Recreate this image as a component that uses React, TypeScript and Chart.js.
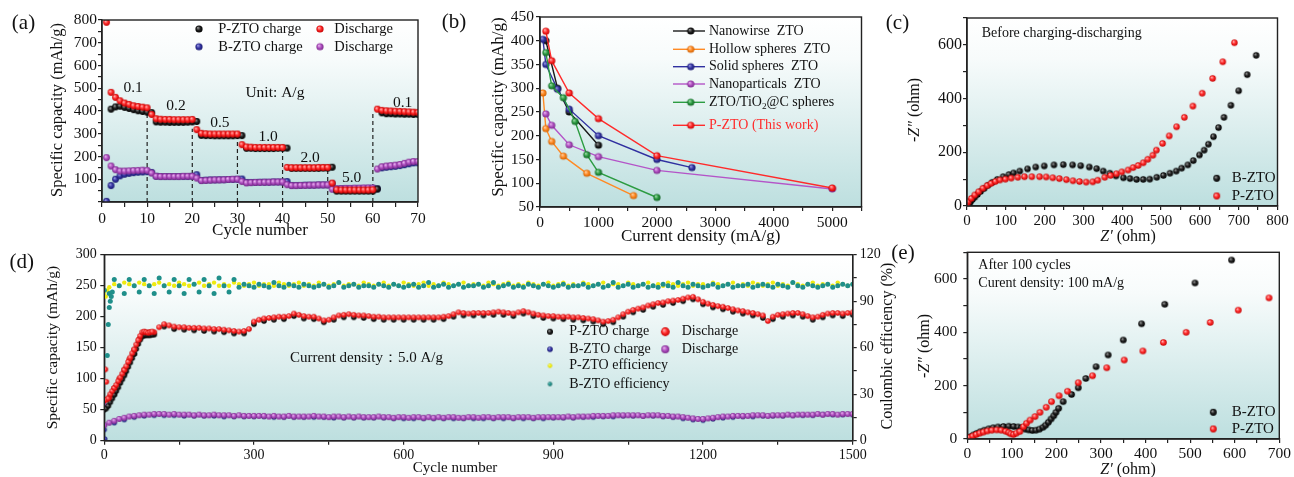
import React, { useEffect, useRef } from 'react';
import { Chart, registerables } from 'chart.js';

Chart.register(...registerables);

const FONT = '"Liberation Serif", "Times New Roman", Times, serif';
const PAGE_W = 1294;
const PAGE_H = 477;

/* ---------------- (a) rate capability, cycles 1..70 ---------------- */
const A_P_CHARGE = [
  null, 408, 418, 421, 416, 411, 406, 401, 398, 395,
  393, 352, 351, 351, 350, 350, 350, 350, 351, 352,
  354, 293, 292, 292, 291, 291, 291, 291, 291, 292,
  292, 236, 236, 235, 235, 235, 235, 235, 236, 236,
  237, 148, 148, 148, 148, 148, 148, 148, 149, 149,
  153, 48, 48, 48, 48, 48, 48, 48, 48, 48,
  57, 392, 388, 388, 387, 387, 386, 386, 385, 385,
];
const A_P_DISCHARGE = [
  790, 482, 460, 445, 435, 429, 423, 420, 417, 414,
  385, 366, 364, 363, 363, 362, 362, 362, 362, 363,
  318, 302, 300, 299, 299, 299, 299, 299, 299, 299,
  252, 242, 241, 240, 240, 240, 240, 240, 240, 240,
  152, 151, 151, 151, 151, 151, 151, 152, 152, 152,
  83, 54, 53, 53, 53, 53, 53, 53, 53, 54,
  408, 403, 401, 400, 399, 398, 397, 396, 395, 394,
];
const A_B_CHARGE = [
  3, 72, 100, 115, 122, 126, 129, 131, 132, 133,
  130, 113, 112, 112, 112, 112, 112, 112, 112, 113,
  120, 95, 96, 97, 97, 98, 98, 99, 99, 100,
  101, 86, 86, 86, 87, 87, 87, 88, 88, 88,
  90, 73, 73, 73, 74, 74, 74, 75, 75, 75,
  80, 57, 58, 58, 58, 59, 59, 59, 60, 60,
  58, 150, 153, 155, 157, 160, 164, 168, 172, 172,
];
const A_B_DISCHARGE = [
  195, 158, 142, 136, 136, 137, 138, 139, 140, 139,
  127, 113, 112, 112, 112, 112, 112, 113, 113, 113,
  105, 94, 95, 96, 97, 97, 98, 99, 100, 100,
  90, 84, 85, 86, 86, 87, 87, 88, 88, 88,
  76, 72, 72, 73, 73, 74, 74, 75, 75, 75,
  56, 58, 59, 60, 60, 61, 61, 62, 62, 62,
  145, 155, 158, 160, 162, 165, 170, 175, 178, 178,
];
const A_RATE_EDGES = [10, 20, 30, 40, 50, 60];
const A_RATE_EDGE_TOPS = [395, 322, 283, 228, 158, 390];
const A_RATE_LABELS = ['0.1', '0.2', '0.5', '1.0', '2.0', '5.0', '0.1'];

/* ---------------- (b) comparison ---------------- */
const B_NANOWIRE_X = [100, 300, 500, 1000];
const B_NANOWIRE_Y = [400, 300, 250, 180];
const B_HOLLOW_X = [50, 100, 200, 400, 800, 1600];
const B_HOLLOW_Y = [290, 215, 188, 157, 121, 74];
const B_SOLID_X = [50, 100, 300, 500, 1000, 2000, 2600];
const B_SOLID_Y = [403, 350, 298, 256, 200, 150, 133];
const B_NANOPART_X = [100, 200, 500, 1000, 2000, 5000];
const B_NANOPART_Y = [246, 222, 181, 156, 127, 88];
const B_TIO2C_X = [100, 200, 400, 600, 800, 1000, 2000];
const B_TIO2C_Y = [375, 305, 280, 230, 160, 123, 70];
const B_PZTO_X = [100, 200, 500, 1000, 2000, 5000];
const B_PZTO_Y = [420, 358, 290, 236, 158, 90];

/* ---------------- (c) EIS before cycling ---------------- */
const C_B_X = [2, 5, 9, 14, 20, 27, 35, 44, 54, 65, 78, 93, 108, 120, 136, 156, 177, 199, 224, 248, 272, 293, 315, 334, 351, 368, 384, 403, 420, 437, 454, 471, 489, 506, 523, 539, 553, 569, 583, 599, 611, 622, 635, 648, 662, 680, 700, 722, 745];
const C_B_Y = [2, 8, 15, 24, 33, 43, 54, 65, 77, 88, 99, 109, 117, 123, 130, 138, 145, 149, 153, 154, 153, 150, 145, 139, 130, 122, 112, 105, 102, 99, 99, 100, 107, 114, 122, 130, 141, 153, 169, 190, 208, 230, 258, 292, 330, 375, 429, 489, 561];
const C_P_X = [0, 3, 11, 20, 30, 41, 52, 62, 73, 85, 99, 114, 131, 148, 167, 187, 204, 221, 238, 256, 273, 290, 307, 324, 337, 355, 370, 385, 399, 415, 428, 441, 454, 466, 479, 488, 504, 521, 540, 560, 582, 606, 633, 659, 689];
const C_P_Y = [4, 16, 28, 41, 53, 66, 76, 84, 91, 97, 100, 104, 107, 109, 109, 109, 108, 105, 102, 98, 94, 91, 89, 90, 96, 107, 114, 120, 127, 134, 143, 151, 161, 174, 189, 208, 233, 261, 295, 330, 372, 420, 475, 537, 608];

/* ---------------- (d) long cycling at 5 A/g ---------------- */
const D_STEP = 10;
const D_STEP_CHARGE = 20;
const D_RISE_STEP = 4;
const D_P_DISCHARGE = [
  65, 70, 85, 100, 115, 131, 147, 164, 175, 175,
  175, 183, 188, 186, 184, 183, 183, 182, 182, 182,
  181, 181, 180, 180, 179, 178, 177, 176, 177, 180,
  192, 195, 197, 198, 199, 200, 200, 201, 205, 203,
  201, 200, 200, 197, 194, 195, 199, 202, 203, 204,
  203, 202, 202, 201, 200, 200, 199, 199, 199, 199,
  199, 199, 199, 199, 199, 199, 199, 199, 200, 201,
  204, 207, 206, 205, 206, 206, 206, 206, 207, 208,
  207, 206, 205, 207, 209, 207, 205, 203, 202, 201,
  201, 200, 200, 200, 199, 199, 198, 197, 196, 194,
  192, 193, 195, 199, 204, 208, 211, 213, 215, 218,
  220, 222, 223, 225, 226, 227, 229, 231, 232, 228,
  224, 221, 219, 217, 216, 214, 212, 210, 209, 207,
  206, 204, 202, 193, 200, 203, 204, 205, 206, 206,
  204, 201, 199, 200, 203, 205, 206, 206, 205, 206,
  207,
];
/* first 100 cycles, read every 4 cycles */
const D_P_DISCHARGE_RISE = [66, 66, 68, 75, 80, 85, 90, 96, 102, 108, 114, 120, 127, 134, 141, 147, 155, 162, 169, 175, 176, 175, 174, 175, 176];
const D_P_DISCHARGE_EARLY_X = [2, 4];
const D_P_DISCHARGE_EARLY_Y = [115, 95];
const D_P_CHARGE = [
  52, 75, 108, 140, 170, 171, 184, 180, 179, 178,
  177, 176, 175, 173, 173, 188, 193, 195, 196, 201,
  197, 196, 191, 195, 199, 199, 198, 196, 195, 195,
  195, 195, 195, 195, 196, 200, 202, 202, 202, 203,
  203, 201, 205, 201, 198, 197, 196, 195, 194, 192,
  188, 191, 200, 207, 211, 216, 219, 222, 225, 228,
  220, 215, 212, 208, 205, 202, 198, 196, 200, 202,
  200, 195, 199, 202, 201, 203,
];
const D_P_CHARGE_RISE = [50, 52, 56, 62, 68, 74, 80, 86, 93, 99, 105, 112, 119, 126, 133, 140, 148, 156, 163, 168, 170, 170, 170, 170, 171];
const D_B_DISCHARGE = [
  25, 29, 32, 35, 37, 39, 40, 41, 42, 42,
  43, 43, 43, 42, 43, 42, 42, 42, 41, 42,
  41, 41, 42, 41, 41, 41, 40, 41, 40, 40,
  40, 40, 40, 39, 40, 39, 39, 40, 39, 39,
  39, 39, 40, 39, 39, 38, 39, 39, 38, 39,
  38, 39, 38, 38, 38, 39, 38, 38, 37, 38,
  38, 37, 38, 38, 37, 38, 37, 38, 37, 38,
  38, 37, 37, 38, 38, 37, 38, 38, 37, 38,
  38, 38, 37, 38, 38, 38, 37, 38, 38, 38,
  38, 38, 38, 39, 38, 39, 39, 39, 40, 40,
  40, 40, 41, 41, 41, 41, 41, 41, 40, 41,
  41, 41, 40, 40, 39, 39, 38, 37, 36, 35,
  35, 36, 37, 38, 39, 39, 40, 40, 40, 40,
  41, 41, 41, 40, 41, 41, 41, 42, 41, 42,
  42, 42, 42, 43, 42, 43, 43, 42, 43, 43,
  43,
];
const D_B_DISCHARGE_EARLY_X = [1];
const D_B_DISCHARGE_EARLY_Y = [56];
const D_B_CHARGE = [
  18, 29, 34, 38, 40, 41, 41, 41, 40, 40,
  40, 40, 39, 39, 39, 39, 39, 38, 38, 38,
  38, 38, 38, 37, 37, 37, 37, 37, 37, 36,
  36, 36, 36, 36, 36, 36, 36, 36, 36, 36,
  36, 36, 36, 36, 36, 37, 37, 37, 38, 38,
  39, 39, 40, 40, 40, 40, 39, 38, 36, 34,
  33, 35, 37, 38, 39, 39, 40, 40, 40, 41,
  41, 41, 42, 42, 42, 42,
];
const D_B_CHARGE_EARLY_X = [1];
const D_B_CHARGE_EARLY_Y = [3];
const D_P_EFF = [
  96, 99, 101, 100, 102, 101, 100, 102, 101, 100,
  101, 102, 100, 101, 100, 102, 101, 100, 101, 102,
  100, 101, 102, 100, 101, 100, 102, 101, 100, 101,
  102, 100, 101, 101, 100, 102, 101, 100, 101, 102,
  100, 101, 100, 102, 101, 100, 101, 102, 100, 101,
  101, 100, 102, 101, 100, 101, 102, 100, 101, 100,
  102, 101, 100, 101, 102, 100, 101, 100, 102, 101,
  100, 101, 102, 100, 101, 101, 100, 102, 101, 100,
  101, 102, 100, 101, 100, 102, 101, 100, 101, 102,
  100, 101, 102, 100, 101, 100, 102, 101, 100, 101,
  102, 100, 101, 101, 100, 102, 101, 100, 101, 102,
  100, 101, 100, 102, 101, 100, 101, 102, 100, 101,
  101, 100, 102, 101, 100, 101, 102, 100, 101, 100,
  102, 101, 100, 101, 102, 100, 101, 100, 102, 101,
  100, 101, 102, 100, 101, 101, 100, 102, 101, 100,
  101,
];
const D_P_EFF_EARLY_X = [3, 6];
const D_P_EFF_EARLY_Y = [93, 97];
const D_B_EFF = [
  97, 95, 104, 100, 95, 104, 100, 96, 104, 100,
  95, 105, 100, 96, 104, 100, 95, 104, 101, 96,
  104, 100, 95, 105, 100, 96, 104, 99, 101, 100,
  99, 101, 100, 99, 102, 100, 99, 101, 100, 99,
  101, 100, 99, 100, 101, 99, 100, 102, 99, 100,
  101, 99, 100, 100, 99, 101, 100, 99, 101, 100,
  99, 100, 101, 99, 100, 102, 99, 100, 101, 99,
  100, 101, 99, 100, 100, 101, 99, 100, 102, 99,
  100, 101, 99, 100, 99, 101, 100, 99, 101, 100,
  99, 100, 101, 99, 100, 100, 101, 99, 100, 101,
  99, 100, 102, 99, 100, 101, 99, 100, 101, 99,
  100, 99, 101, 100, 99, 102, 100, 99, 101, 100,
  99, 100, 101, 99, 100, 101, 99, 100, 100, 101,
  99, 100, 101, 100, 99, 101, 100, 99, 102, 100,
  99, 101, 100, 99, 100, 101, 99, 100, 101, 100,
  101,
];
const D_B_EFF_EARLY_X = [6, 8, 10, 12, 14, 16];
const D_B_EFF_EARLY_Y = [55, 75, 86, 90, 93, 96];

/* ---------------- (e) EIS after 100 cycles ---------------- */
const E_B_X = [3, 8, 14, 21, 29, 38, 48, 58, 69, 81, 93, 104, 114, 122, 130, 138, 146, 154, 162, 170, 176, 182, 188, 194, 199, 205, 215, 234, 249, 266, 289, 316, 350, 391, 443, 511, 593];
const E_B_Y = [3, 9, 15, 21, 27, 33, 38, 42, 45, 47, 48, 47, 45, 42, 37, 34, 32, 33, 37, 44, 52, 63, 75, 87, 100, 115, 140, 167, 192, 227, 271, 315, 371, 432, 505, 585, 671];
const E_P_X = [2, 6, 12, 20, 28, 36, 45, 55, 66, 76, 86, 93, 98, 104, 110, 118, 126, 133, 141, 152, 163, 177, 189, 206, 225, 249, 281, 313, 352, 394, 440, 491, 545, 608, 677];
const E_P_Y = [2, 6, 11, 17, 22, 26, 30, 33, 34, 33, 29, 24, 19, 17, 22, 28, 46, 59, 71, 84, 100, 119, 140, 162, 179, 211, 237, 267, 296, 330, 362, 400, 437, 483, 529];

/* ---------------- helpers ---------------- */
type Seg = { t: string; it?: boolean; sub?: boolean; color?: string };
type TextItem = { s: string | Seg[]; x: number; y: number; size: number; align?: 'left' | 'center' | 'right'; rot?: number; color?: string; data?: boolean; axis?: string };
type LegendItem = { mx: number; my: number; img?: HTMLCanvasElement; line?: [number, number, string]; tx: number; s: string | Seg[]; size: number; color?: string };

function ball(base: string, light: string, dark: string, r: number): HTMLCanvasElement {
  const s = Math.ceil(r * 2) + 2;
  const c = document.createElement('canvas');
  c.width = s;
  c.height = s;
  const g = c.getContext('2d')!;
  const cx = s / 2;
  const cy = s / 2;
  const grad = g.createRadialGradient(cx - r * 0.35, cy - r * 0.4, 0, cx, cy, r);
  grad.addColorStop(0, light);
  grad.addColorStop(0.55, base);
  grad.addColorStop(1, dark);
  g.fillStyle = grad;
  g.beginPath();
  g.arc(cx, cy, r, 0, Math.PI * 2);
  g.fill();
  return c;
}
const PAL: Record<string, [string, string, string]> = {
  black: ['#202020', '#a8a8a8', '#000000'],
  red: ['#ff2b2b', '#ffc6c6', '#c40000'],
  blue: ['#3636a4', '#a8a8ea', '#1a1a70'],
  purple: ['#b050c2', '#f0c4f4', '#7a2a8a'],
  orange: ['#ff8a24', '#ffdcb8', '#cc5e00'],
  green: ['#2c9c42', '#b4e6bc', '#126224'],
  yellow: ['#f2ee10', '#fbf9a0', '#d8d400'],
  teal: ['#1f8f8a', '#6fcac4', '#146660'],
};
const mk = (k: string, r: number) => ball(PAL[k][0], PAL[k][1], PAL[k][2], r);

function drawRich(ctx: CanvasRenderingContext2D, s: string | Seg[], x: number, y: number, size: number, align: string, rot: number, color?: string) {
  const segs: Seg[] = typeof s === 'string' ? [{ t: s }] : s;
  const fontOf = (g: Seg) => `${g.it ? 'italic ' : ''}${g.sub ? size * 0.66 : size}px ${FONT}`;
  let total = 0;
  const ws = segs.map((g) => {
    ctx.font = fontOf(g);
    const w = ctx.measureText(g.t).width;
    total += w;
    return w;
  });
  ctx.save();
  ctx.translate(x, y);
  if (rot) ctx.rotate(rot);
  let cx = align === 'center' ? -total / 2 : align === 'right' ? -total : 0;
  ctx.textBaseline = 'middle';
  ctx.textAlign = 'left';
  segs.forEach((g, i) => {
    ctx.font = fontOf(g);
    ctx.fillStyle = g.color || color || '#111';
    ctx.fillText(g.t, cx, g.sub ? size * 0.3 : 0);
    cx += ws[i];
  });
  ctx.restore();
}

let pluginCount = 0;
function decor(cfg: { texts: TextItem[]; legend: LegendItem[] }) {
  pluginCount += 1;
  return {
    id: 'decor' + pluginCount,
    beforeDraw(chart: any) {
      const { ctx, chartArea: a } = chart;
      const g = ctx.createLinearGradient(0, a.top, 0, a.bottom);
      g.addColorStop(0, '#ffffff');
      g.addColorStop(0.22, '#f7fbfb');
      g.addColorStop(1, '#bddfdf');
      ctx.save();
      ctx.fillStyle = g;
      ctx.fillRect(a.left, a.top, a.right - a.left, a.bottom - a.top);
      ctx.restore();
    },
    afterDraw(chart: any) {
      const { ctx, chartArea: a } = chart;
      ctx.save();
      ctx.strokeStyle = '#222';
      ctx.lineWidth = 1.4;
      ctx.strokeRect(a.left, a.top, a.right - a.left, a.bottom - a.top);
      ctx.restore();
      for (const t of cfg.texts) {
        let x = t.x;
        let y = t.y;
        if (t.data) {
          x = chart.scales.x.getPixelForValue(t.x);
          y = chart.scales[t.axis || 'y'].getPixelForValue(t.y);
        }
        drawRich(ctx, t.s, x, y, t.size, t.align || 'center', t.rot || 0, t.color);
      }
      for (const it of cfg.legend) {
        if (it.line) {
          ctx.save();
          ctx.strokeStyle = it.line[2];
          ctx.lineWidth = 1.4;
          ctx.beginPath();
          ctx.moveTo(it.line[0], it.my);
          ctx.lineTo(it.line[1], it.my);
          ctx.stroke();
          ctx.restore();
        }
        if (it.img) ctx.drawImage(it.img, it.mx - it.img.width / 2, it.my - it.img.height / 2);
        drawRich(ctx, it.s, it.tx, it.my, it.size, 'left', 0, it.color);
      }
    },
  };
}

function linAxis(o: { pos: string; min: number; max: number; step: number; every: number; box: number; font: number; pad: number; tl?: number; hideMin?: boolean }) {
  return {
    type: 'linear',
    position: o.pos,
    min: o.min,
    max: o.max,
    afterFit: (s: any) => {
      if (o.pos === 'bottom') s.height = o.box;
      else s.width = o.box;
    },
    grid: { display: true, drawOnChartArea: false, drawTicks: true, tickLength: o.tl ?? 4, color: '#222', lineWidth: 1.2 },
    border: { display: true, color: '#222', width: 1.4 },
    ticks: {
      stepSize: o.step,
      autoSkip: false,
      maxRotation: 0,
      minRotation: 0,
      padding: o.pad,
      color: '#111',
      font: { family: FONT, size: o.font },
      callback: (v: any) => {
        const n = Number(v);
        if (o.hideMin && n === o.min) return '';
        const q = n / o.every;
        return Math.abs(q - Math.round(q)) < 1e-6 ? String(n) : '';
      },
    },
  };
}

const pts = (xs: number[], ys: (number | null)[]) => xs.map((x, i) => ({ x, y: ys[i] }));
const seq = (ys: (number | null)[], start: number, step: number) => ys.map((y, i) => ({ x: start + i * step, y }));
function balls(data: any[], img: HTMLCanvasElement, r: number, order: number, extra: any = {}) {
  return { data, pointStyle: img, pointRadius: r, pointHoverRadius: r, pointBorderWidth: 0, showLine: false, order, ...extra };
}
function dots(data: any[], color: string, r: number, order: number, yAxisID = 'y') {
  return { data, pointStyle: 'circle', pointRadius: r, pointBackgroundColor: color, pointBorderWidth: 0, showLine: false, order, yAxisID };
}

function makeChart(canvas: HTMLCanvasElement, datasets: any[], scales: any, pad: any, deco: any) {
  return new Chart(canvas, {
    type: 'scatter',
    data: { datasets },
    options: {
      responsive: false,
      maintainAspectRatio: false,
      animation: false,
      devicePixelRatio: 1,
      events: [],
      layout: { padding: pad },
      plugins: { legend: { display: false }, tooltip: { enabled: false } },
      scales,
    } as any,
    plugins: [decor(deco)],
  } as any);
}

const ROT = -Math.PI / 2;

/* ---------------- panels ---------------- */
function buildA(cv: HTMLCanvasElement) {
  const r = 3.4;
  const cycles = A_P_DISCHARGE.map((_, i) => i + 1);
  const datasets: any[] = [
    balls(pts(cycles, A_P_DISCHARGE), mk('red', r), r, 0),
    balls(pts(cycles, A_P_CHARGE), mk('black', r), r, 1),
    balls(pts(cycles, A_B_DISCHARGE), mk('purple', r), r, 2),
    balls(pts(cycles, A_B_CHARGE), mk('blue', r), r, 3),
    ...A_RATE_EDGES.map((x, i) => ({
      data: [{ x, y: 0 }, { x, y: A_RATE_EDGE_TOPS[i] }],
      showLine: true, borderColor: '#222', borderWidth: 1.2, borderDash: [4, 3], pointRadius: 0, order: 9,
    })),
  ];
  const labelAt = [[6.9, 501], [16.4, 422], [26.1, 347], [36.8, 286], [46.1, 193], [55.3, 106], [66.6, 434]];
  const lr = 3.6;
  return makeChart(cv, datasets, {
    x: linAxis({ pos: 'bottom', min: 0, max: 70, step: 5, every: 10, box: 30, font: 15.5, pad: 3, tl: 5 }),
    y: linAxis({ pos: 'left', min: 0, max: 800, step: 50, every: 100, box: 50, font: 15.5, pad: 1, hideMin: true }),
  }, { left: 52, top: 20, right: PAGE_W - 418, bottom: PAGE_H - 202 - 30 }, {
    texts: [
      { s: '(a)', x: 23.5, y: 23, size: 21 },
      { s: 'Specific capacity (mAh/g)', x: 58, y: 110, size: 16.5, rot: ROT },
      { s: 'Cycle number', x: 260, y: 231, size: 17 },
      ...A_RATE_LABELS.map((t, i) => ({ s: t, x: labelAt[i][0], y: labelAt[i][1], size: 15.5, data: true })),
      { s: 'Unit: A/g', x: 38.3, y: 479, size: 15.5, data: true },
    ],
    legend: [
      { mx: 199, my: 29, img: mk('black', lr), tx: 218.3, s: 'P-ZTO charge', size: 14.5 },
      { mx: 320, my: 29, img: mk('red', lr), tx: 334.3, s: 'Discharge', size: 14.5 },
      { mx: 199, my: 46.7, img: mk('blue', lr), tx: 218.3, s: 'B-ZTO charge', size: 14.5 },
      { mx: 320, my: 46.7, img: mk('purple', lr), tx: 334.3, s: 'Discharge', size: 14.5 },
    ],
  });
}

function buildB(cv: HTMLCanvasElement) {
  const r = 3.6;
  const line = (xs: number[], ys: number[], col: string, key: string, order: number) => ({
    data: pts(xs, ys), showLine: true, borderColor: col, borderWidth: 1.4,
    pointStyle: mk(key, r), pointRadius: r, pointHoverRadius: r, pointBorderWidth: 0, order,
  });
  const C = { black: '#1a1a1a', orange: '#ff8a24', navy: '#3030a0', purple: '#b455c8', green: '#2c9c42', red: '#ff2b2b' };
  const datasets = [
    line(B_PZTO_X, B_PZTO_Y, C.red, 'red', 0),
    line(B_TIO2C_X, B_TIO2C_Y, C.green, 'green', 1),
    line(B_SOLID_X, B_SOLID_Y, C.navy, 'blue', 2),
    line(B_NANOWIRE_X, B_NANOWIRE_Y, C.black, 'black', 3),
    line(B_NANOPART_X, B_NANOPART_Y, C.purple, 'purple', 4),
    line(B_HOLLOW_X, B_HOLLOW_Y, C.orange, 'orange', 5),
  ];
  const rows = [31, 49.3, 66.7, 84, 102.3, 125.3];
  const keys = ['black', 'orange', 'blue', 'purple', 'green', 'red'];
  const cols = [C.black, C.orange, C.navy, C.purple, C.green, C.red];
  const names: (string | Seg[])[] = [
    'Nanowirse  ZTO',
    'Hollow spheres  ZTO',
    'Solid spheres  ZTO',
    'Nanoparticals  ZTO',
    [{ t: 'ZTO/TiO' }, { t: '2', sub: true }, { t: '@C spheres' }],
    'P-ZTO (This work)',
  ];
  return makeChart(cv, datasets, {
    x: linAxis({ pos: 'bottom', min: 0, max: 5500, step: 500, every: 1000, box: 30, font: 15.5, pad: 3 }),
    y: linAxis({ pos: 'left', min: 50, max: 450, step: 50, every: 50, box: 40, font: 15.5, pad: 2 }),
  }, { left: 500, top: 17, right: PAGE_W - 861.5, bottom: PAGE_H - 207 - 30 }, {
    texts: [
      { s: '(b)', x: 454, y: 22, size: 21 },
      { s: 'Specific capacity (mAh/g)', x: 498.3, y: 107, size: 17, rot: ROT },
      { s: 'Current density (mA/g)', x: 700.7, y: 236.5, size: 17 },
    ],
    legend: rows.map((y, i) => ({
      mx: 690.7, my: y, img: mk(keys[i], r), line: [673, 705, cols[i]] as [number, number, string],
      tx: 709, s: names[i], size: 14, color: i === 5 ? '#ff2b2b' : '#111',
    })),
  });
}

function buildC(cv: HTMLCanvasElement) {
  const r = 3.2;
  return makeChart(cv, [
    balls(pts(C_P_X, C_P_Y), mk('red', r), r, 0),
    balls(pts(C_B_X, C_B_Y), mk('black', r), r, 1),
  ], {
    x: linAxis({ pos: 'bottom', min: 0, max: 800, step: 50, every: 100, box: 30, font: 15, pad: 2 }),
    y: linAxis({ pos: 'left', min: 0, max: 700, step: 100, every: 200, box: 40, font: 16, pad: 1 }),
  }, { left: 927, top: 18, right: PAGE_W - 1277.5, bottom: PAGE_H - 206 - 30 }, {
    texts: [
      { s: '(c)', x: 897.5, y: 23, size: 21 },
      { s: [{ t: '-' }, { t: 'Z″', it: true }, { t: ' (ohm)' }], x: 915, y: 110, size: 16, rot: ROT },
      { s: [{ t: 'Z′', it: true }, { t: ' (ohm)' }], x: 1128, y: 237, size: 16 },
      { s: 'Before charging-discharging', x: 981.7, y: 33.3, size: 14, align: 'left' },
    ],
    legend: [
      { mx: 1216.7, my: 178.3, img: mk('black', 3.4), tx: 1231.7, s: 'B-ZTO', size: 15 },
      { mx: 1216.7, my: 196, img: mk('red', 3.4), tx: 1231.7, s: 'P-ZTO', size: 15 },
    ],
  });
}

function buildD(cv: HTMLCanvasElement) {
  const pDis = seq(D_P_DISCHARGE, 0, D_STEP)
    .concat(seq(D_P_DISCHARGE_RISE, 0, D_RISE_STEP))
    .concat(pts(D_P_DISCHARGE_EARLY_X, D_P_DISCHARGE_EARLY_Y));
  const pCha = seq(D_P_CHARGE, 0, D_STEP_CHARGE).concat(seq(D_P_CHARGE_RISE, 0, D_RISE_STEP));
  const bDis = seq(D_B_DISCHARGE, 0, D_STEP).concat(pts(D_B_DISCHARGE_EARLY_X, D_B_DISCHARGE_EARLY_Y));
  const bCha = seq(D_B_CHARGE, 0, D_STEP_CHARGE).concat(pts(D_B_CHARGE_EARLY_X, D_B_CHARGE_EARLY_Y));
  const pEff = seq(D_P_EFF, 0, D_STEP).concat(pts(D_P_EFF_EARLY_X, D_P_EFF_EARLY_Y));
  const bEff = seq(D_B_EFF, 0, D_STEP).concat(pts(D_B_EFF_EARLY_X, D_B_EFF_EARLY_Y));
  const datasets = [
    dots(bEff, '#1f8f8a', 2.5, 0, 'y1'),
    dots(pEff, '#eeea10', 2.2, 1, 'y1'),
    balls(pDis, mk('red', 2.8), 2.8, 2),
    balls(pCha, mk('black', 2.8), 2.8, 3),
    balls(bDis, mk('purple', 3), 3, 4),
    balls(bCha, mk('blue', 2.6), 2.6, 5),
  ];
  const c1 = 550, t1 = 569.3, c2 = 665.3, t2 = 681.7;
  const rows = [331.7, 349.3, 365.7, 384];
  return makeChart(cv, datasets, {
    x: linAxis({ pos: 'bottom', min: 0, max: 1500, step: 150, every: 300, box: 30, font: 14, pad: 2 }),
    y: linAxis({ pos: 'left', min: 0, max: 300, step: 50, every: 50, box: 40, font: 14, pad: 3.5 }),
    y1: linAxis({ pos: 'right', min: 0, max: 120, step: 15, every: 30, box: 40, font: 14, pad: 3 }),
  }, { left: 104.3 - 40, top: 254.7, right: PAGE_W - 852.7 - 40, bottom: PAGE_H - 440.7 - 30 }, {
    texts: [
      { s: '(d)', x: 21.7, y: 262, size: 21 },
      { s: 'Specific capacity (mAh/g)', x: 52.5, y: 347.5, size: 15.5, rot: ROT },
      { s: 'Coulombic efficiency (%)', x: 888, y: 346, size: 16, rot: ROT },
      { s: 'Cycle number', x: 455, y: 468, size: 15 },
      { s: 'Current density：5.0 A/g', x: 290, y: 358.3, size: 15, align: 'left' },
    ],
    legend: [
      { mx: c1, my: rows[0], img: mk('black', 3), tx: t1, s: 'P-ZTO charge', size: 14 },
      { mx: c2, my: rows[0], img: mk('red', 4.4), tx: t2, s: 'Discharge', size: 14 },
      { mx: c1, my: rows[1], img: mk('blue', 2.8), tx: t1, s: 'B-ZTO charge', size: 14 },
      { mx: c2, my: rows[1], img: mk('purple', 4), tx: t2, s: 'Discharge', size: 14 },
      { mx: c1, my: rows[2], img: mk('yellow', 2.2), tx: t1, s: 'P-ZTO efficiency', size: 14 },
      { mx: c1, my: rows[3], img: mk('teal', 2.2), tx: t1, s: 'B-ZTO efficiency', size: 14 },
    ],
  });
}

function buildE(cv: HTMLCanvasElement) {
  const r = 3.3;
  return makeChart(cv, [
    balls(pts(E_P_X, E_P_Y), mk('red', r), r, 0),
    balls(pts(E_B_X, E_B_Y), mk('black', r), r, 1),
  ], {
    x: linAxis({ pos: 'bottom', min: 0, max: 700, step: 50, every: 100, box: 30, font: 15.5, pad: 1.5 }),
    y: linAxis({ pos: 'left', min: 0, max: 700, step: 100, every: 200, box: 40, font: 15.5, pad: 6 }),
  }, { left: 967.3 - 40, top: 252.3, right: PAGE_W - 1279.3, bottom: PAGE_H - 439 - 30 }, {
    texts: [
      { s: '(e)', x: 903, y: 253, size: 21 },
      { s: [{ t: '-' }, { t: 'Z″', it: true }, { t: ' (ohm)' }], x: 925, y: 346, size: 16, rot: ROT },
      { s: [{ t: 'Z′', it: true }, { t: ' (ohm)' }], x: 1128, y: 470, size: 16 },
      { s: 'After 100 cycles', x: 978.3, y: 265, size: 14, align: 'left' },
      { s: 'Curent density: 100 mA/g', x: 978.3, y: 283.3, size: 14, align: 'left' },
    ],
    legend: [
      { mx: 1213.3, my: 412.3, img: mk('black', 3.4), tx: 1231.7, s: 'B-ZTO', size: 15 },
      { mx: 1213.3, my: 429, img: mk('red', 3.4), tx: 1231.7, s: 'P-ZTO', size: 15 },
    ],
  });
}

export default function App() {
  const r0 = useRef<HTMLCanvasElement>(null);
  const r1 = useRef<HTMLCanvasElement>(null);
  const r2 = useRef<HTMLCanvasElement>(null);
  const r3 = useRef<HTMLCanvasElement>(null);
  const r4 = useRef<HTMLCanvasElement>(null);
  const refs = [r0, r1, r2, r3, r4];
  useEffect(() => {
    document.body.style.margin = '0';
    const charts = [
      buildA(r0.current!),
      buildB(r1.current!),
      buildC(r2.current!),
      buildD(r3.current!),
      buildE(r4.current!),
    ];
    return () => charts.forEach((c) => c.destroy());
  }, []);
  return (
    <div style={{ position: 'relative', width: PAGE_W, height: PAGE_H, background: '#fff', overflow: 'hidden' }}>
      {refs.map((r, i) => (
        <canvas
          key={i}
          ref={r}
          width={PAGE_W}
          height={PAGE_H}
          style={{ position: 'absolute', left: 0, top: 0, width: PAGE_W, height: PAGE_H }}
        />
      ))}
    </div>
  );
}
